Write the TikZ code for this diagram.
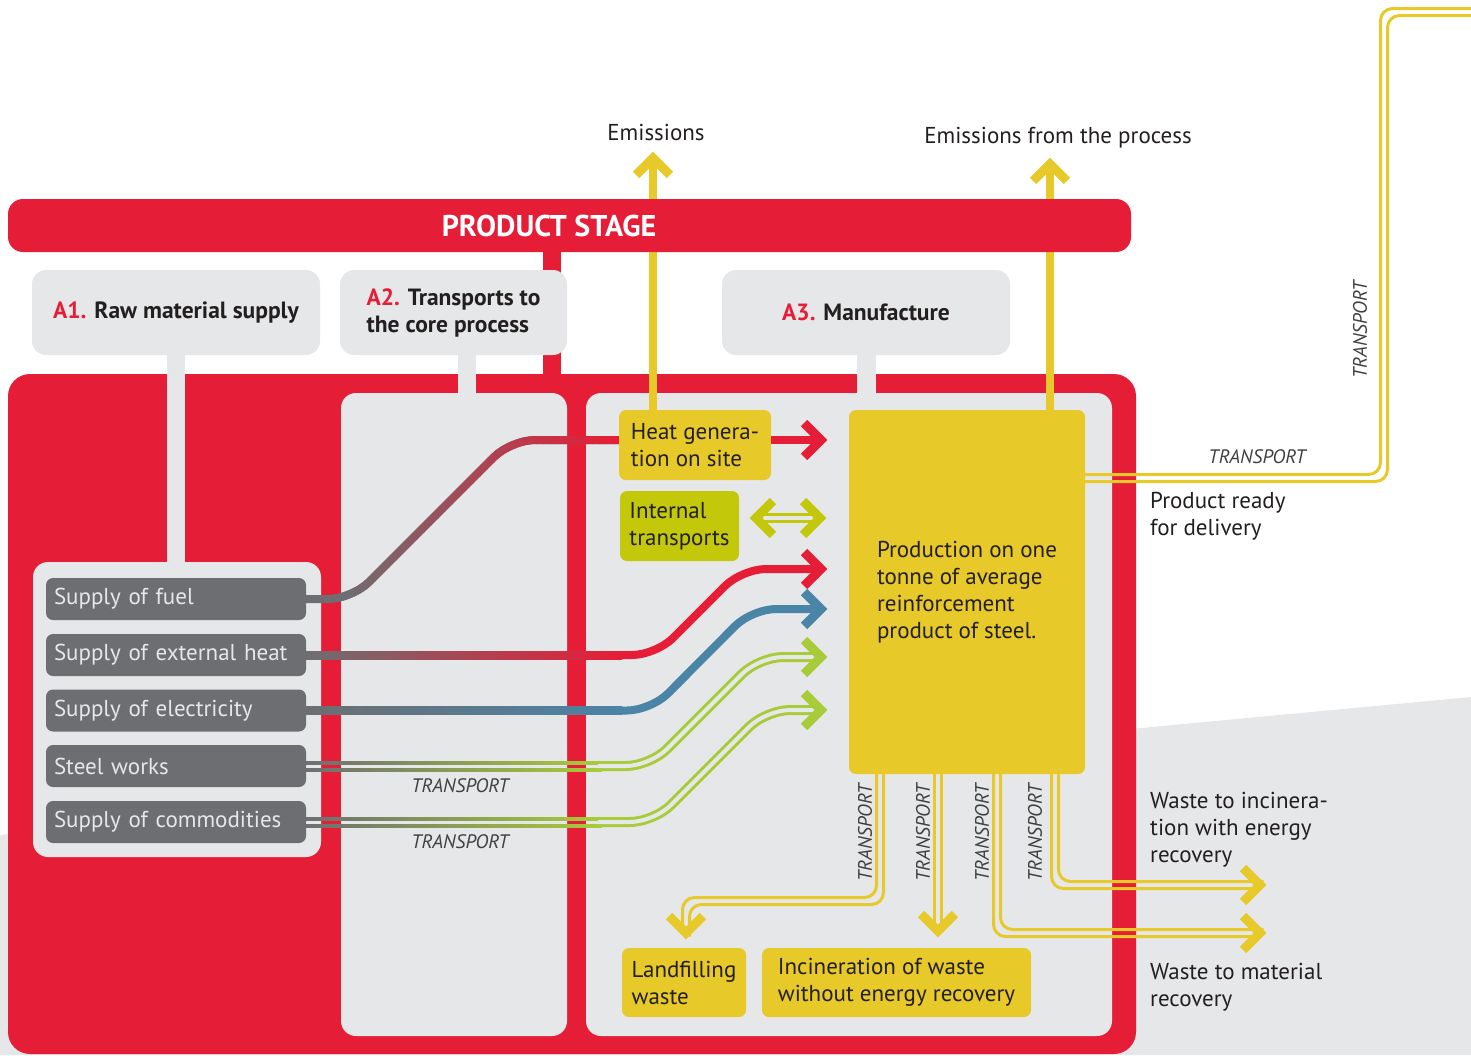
\documentclass[tikz,border=0pt]{standalone}
\usepackage{fontspec}
\setmainfont{PT Sans}

\definecolor{psred}{HTML}{E61D37}
\definecolor{lgray}{HTML}{E6E7E8}
\definecolor{dgray}{HTML}{6D6E71}
\definecolor{ochre}{HTML}{E8C92A}
\definecolor{lime}{HTML}{C4C80A}
\definecolor{leaf}{HTML}{A8CC39}
\definecolor{steelblue}{HTML}{4A84A7}
\definecolor{ink}{HTML}{231F20}
\definecolor{tgray}{HTML}{404041}

\tikzset{
  plain/.style={inner sep=0pt, text=ink, font=\fontsize{23}{27}\selectfont},
  tag/.style={plain, fill=lgray, rounded corners=14pt, minimum height=85pt, align=left,
    font=\fontsize{23.5}{27}\selectfont\bfseries},
  supply/.style={plain, fill=dgray, text=lgray, rounded corners=7pt, minimum width=260pt,
    minimum height=42pt, text width=244pt, inner xsep=8pt, align=left},
  ybox/.style={plain, fill=ochre, rounded corners=7pt, align=left},
  side/.style={plain, anchor=west, align=left},
  transp/.style={plain, text=tgray, font=\fontsize{19.5}{22}\selectfont\itshape},
  flow/.style={line width=8pt},
  rail/.style={line width=3pt},
  barb/.style={line width=9pt, line join=miter},
}

% chevron tip: colour, vertex, direction
\newcommand{\headat}[3]{\draw[barb,#1] ([shift={(#3+135:24)}]#2) -- (#2) -- ([shift={(#3-135:24)}]#2);}
% two parallel rails: style, xshift, yshift, path
\newcommand{\twinline}[4]{%
  \draw[rail,#1,transform canvas={xshift=#2pt,yshift=#3pt}] #4;
  \draw[rail,#1,transform canvas={xshift=-1*(#2pt),yshift=-1*(#3pt)}] #4;}

\begin{document}
\begin{tikzpicture}[x=1pt,y=-1pt]
\useasboundingbox (0,0) rectangle (1471,1055);
\fill[lgray] (0,835) -- (1471,697) -- (1471,1055) -- (0,1055) -- cycle;

% frame
\fill[psred] (543,248) rectangle (561,380);
\fill[psred, rounded corners=22pt] (8,374) rectangle (1136,1054);
\fill[lgray, rounded corners=15pt] (341,393) rectangle (567,1036);
\fill[lgray, rounded corners=15pt] (586,393) rectangle (1112,1036);
\fill[lgray, rounded corners=15pt] (33,562) rectangle (321,857);
\fill[lgray] (167,350) rectangle (185,566);
\fill[lgray] (458,350) rectangle (476,397);
\fill[lgray] (857,350) rectangle (876,397);

\node[tag, minimum width=288pt] (a1) at (176,312.5) {\textcolor{psred}{A1.} Raw material supply};
\node[tag, minimum width=227pt] (a2) at (453.5,312.5) {\textcolor{psred}{A2.} Transports to\\the core process};
\node[tag, minimum width=288pt] (a3) at (866,312.5) {\textcolor{psred}{A3.} Manufacture};

% supplies
\node[supply] (fuel) at (176,599) {Supply of fuel};
\node[supply] (xheat) at (176,655) {Supply of external heat};
\node[supply] (elec) at (176,710.5) {Supply of electricity};
\node[supply] (works) at (176,766) {Steel works};
\node[supply] (goods) at (176,822) {Supply of commodities};

% manufacture
\node[ybox, minimum width=152pt, minimum height=70pt] (heat) at (695,445) {Heat genera-\\tion on site};
\node[ybox, fill=lime, minimum width=119pt, minimum height=70pt] (intern) at (679.5,526) {Internal\\transports};
\node[ybox, minimum width=236pt, minimum height=364pt] (prod) at (967,592) {Production on one\\tonne of average\\reinforcement\\product of steel.};
\node[ybox, minimum width=124pt, minimum height=69pt] (land) at (684,982.5) {Landfilling\\waste};
\node[ybox, minimum width=269pt, minimum height=69pt] (incin) at (896.5,982.5) {Incineration of waste\\without energy recovery};

\node[plain] (em) at (656,132) {Emissions};
\node[plain] (emp) at (1058,138) {Emissions from the process};
\node[side] (ready) at (1150,516) {Product ready\\for delivery};
\node[side] (wener) at (1150,830) {Waste to incinera-\\tion with energy\\recovery};
\node[side] (wmat) at (1150,987.5) {Waste to material\\recovery};

\coordinate (emtip) at (653,158);
\coordinate (eptip) at (1050,164);
\coordinate (heattip) at (821,440);
\coordinate (xheattip) at (821,569);
\coordinate (electip) at (821,609);
\coordinate (workstip) at (821,657);
\coordinate (goodstip) at (821,710);
\coordinate (movel) at (756,518);
\coordinate (mover) at (820,518);
\coordinate (landtip) at (686,933);
\coordinate (incintip) at (938,931);
\coordinate (mattip) at (1260,933);
\coordinate (enertip) at (1260,885);

% emissions, under the stage bar
\draw[flow, ochre] (heat.north -| emtip) -- (emtip);
\draw[flow, ochre] (prod.north -| eptip) -- (eptip);
\headat{ochre}{emtip}{270}
\headat{ochre}{eptip}{270}
\fill[psred, rounded corners=15pt] (8,199) rectangle (1131,252);
\node[plain, text=white, font=\fontsize{30}{32}\selectfont\bfseries] (stage) at (549,226) {PRODUCT STAGE};

% fuel, grey into red
\draw[flow, dgray, rounded corners=24pt] (fuel.east) -- (352,599) -- (511,440) -- ([yshift=5pt]heat.west);
\foreach \i in {0,...,39}{
  \pgfmathsetmacro\pc{\i*100/39}
  \begin{scope}
    \clip (340+\i*7,400) rectangle ++(7.6,220);
    \draw[flow, psred!\pc!dgray, rounded corners=24pt] (fuel.east) -- (352,599) -- (511,440) -- ([yshift=5pt]heat.west);
  \end{scope}
}
\draw[flow, psred] ([yshift=5pt]heat.east) -- (heattip);
\headat{psred}{heattip}{0}

% external heat and electricity
\shade[left color=dgray, right color=psred] ([yshift=4pt]xheat.east) rectangle (622,659);
\draw[flow, psred, rounded corners=24pt] (620,655) -- (656,655) -- (742,569) -- (xheattip);
\headat{psred}{xheattip}{0}
\shade[left color=dgray, right color=steelblue] ([yshift=4pt]elec.east) rectangle (622,714.5);
\draw[flow, steelblue, rounded corners=24pt] (620,710.5) -- (651,710.5) -- (752,609) -- (electip);
\headat{steelblue}{electip}{0}

% steel works and commodities
\shade[left color=dgray, right color=leaf] ([yshift=5pt]works.east) rectangle (602,764);
\shade[left color=dgray, right color=leaf] ([yshift=-2pt]works.east) rectangle (602,771);
\draw[leaf, rail, double=lgray, double distance=4pt, rounded corners=24pt] (598,766) -- (650,766) -- (759,657) -- (workstip);
\headat{leaf}{workstip}{0}
\shade[left color=dgray, right color=leaf] ([yshift=5pt]goods.east) rectangle (602,820);
\shade[left color=dgray, right color=leaf] ([yshift=-2pt]goods.east) rectangle (602,827);
\draw[leaf, rail, double=lgray, double distance=4pt, rounded corners=24pt] (598,822) -- (654,822) -- (766,710) -- (goodstip);
\headat{leaf}{goodstip}{0}

% internal transports
\draw[lime, rail, double=lgray, double distance=4pt] (movel) -- (mover);
\headat{lime}{movel}{180}
\headat{lime}{mover}{0}

% waste and delivery
\twinline{ochre, rounded corners=12pt}{3.5}{-3.5}{([xshift=-87pt,yshift=4pt]prod.south) -- (880,901) -- (686,901) -- (landtip)}
\twinline{ochre}{3.5}{0}{([xshift=-29pt,yshift=4pt]prod.south) -- (incintip)}
\twinline{ochre, rounded corners=12pt}{3.5}{3.5}{([xshift=30pt,yshift=4pt]prod.south) -- (997,933) -- (mattip)}
\twinline{ochre, rounded corners=12pt}{3.5}{3.5}{([xshift=88pt,yshift=4pt]prod.south) -- (1055,885) -- (enertip)}
\headat{ochre}{landtip}{90}
\headat{ochre}{incintip}{90}
\headat{ochre}{mattip}{0}
\headat{ochre}{enertip}{0}
\twinline{ochre, rounded corners=12pt}{3.5}{-3.5}{([shift={(-4pt,114pt)}]prod.east) -- (1384,478) -- (1384,12) -- (1480,12)}

\node[transp] (t1) at (460,786) {TRANSPORT};
\node[transp] (t2) at (460,842) {TRANSPORT};
\node[transp] (t3) at (1257,457) {TRANSPORT};
\node[transp, rotate=90] (t4) at (1360,330) {TRANSPORT};
\node[transp, rotate=90] (t5) at (865,833) {TRANSPORT};
\node[transp, rotate=90] (t6) at (923,833) {TRANSPORT};
\node[transp, rotate=90] (t7) at (982,833) {TRANSPORT};
\node[transp, rotate=90] (t8) at (1035,833) {TRANSPORT};
\end{tikzpicture}
\end{document}
